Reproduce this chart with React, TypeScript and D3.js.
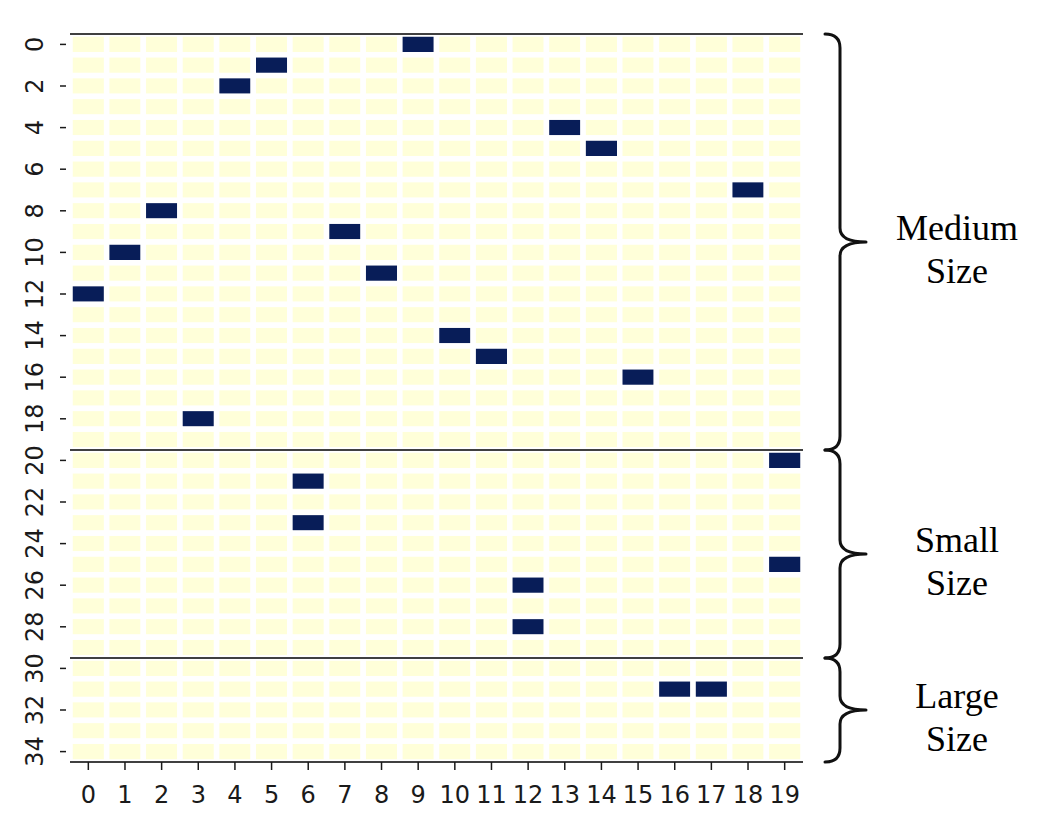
import React from "react";
import * as d3 from "d3";

// 35 samples x 20 classes, one-hot-ish mask
const rowLabels = d3.range(35).map(String);
const colLabels = d3.range(20).map(String);
const markedRows = [0, 1, 2, 4, 5, 7, 8, 9, 10, 11, 12, 14, 15, 16, 18, 20, 21, 23, 25, 26, 28, 31, 31];
const markedCols = [9, 5, 4, 13, 14, 18, 2, 7, 1, 8, 0, 10, 11, 15, 3, 19, 6, 6, 19, 12, 12, 16, 17];

const groupNames = [["Medium", "Size"], ["Small", "Size"], ["Large", "Size"]];
const groupStarts = [0, 20, 30];
const groupEnds = [20, 30, 35];

const W = 1052;
const H = 827;
const margin = { top: 34, right: 249, bottom: 65, left: 70 };

const App = () => {
  const x = d3.scaleBand<string>().domain(colLabels).range([margin.left, W - margin.right]);
  const y = d3.scaleBand<string>().domain(rowLabels).range([margin.top, H - margin.bottom]);
  const color = d3.scaleOrdinal<number, string>().domain([0, 1]).range(["#ffffd9", "#081d58"]);

  const marked = new Set(markedRows.map((r, i) => `${r}-${markedCols[i]}`));
  const cells = rowLabels.flatMap((r) =>
    colLabels.map((c) => ({ r, c, v: marked.has(`${r}-${c}`) ? 1 : 0 }))
  );

  const rowEdge = (i: number) => (i >= rowLabels.length ? y.range()[1] : (y(String(i)) as number));
  const boundaries = [0, ...groupEnds];

  const brace = (y0: number, y1: number) => {
    const x0 = 825, x1 = 840, x2 = 866, r = 14;
    const ym = (y0 + y1) / 2;
    const p = d3.path();
    p.moveTo(x0, y0);
    p.quadraticCurveTo(x1, y0, x1, y0 + r);
    p.lineTo(x1, ym - r);
    p.quadraticCurveTo(x1, ym, x2, ym);
    p.moveTo(x2, ym);
    p.quadraticCurveTo(x1, ym, x1, ym + r);
    p.lineTo(x1, y1 - r);
    p.quadraticCurveTo(x1, y1, x0, y1);
    return p.toString();
  };

  const bottom = y.range()[1];

  return (
    <svg width={W} height={H} style={{ position: "absolute", left: 0, top: 0, background: "#fff" }}>
      <g>
        {cells.map((d) => (
          <rect
            key={`${d.r}-${d.c}`}
            x={x(d.c)}
            y={y(d.r)}
            width={x.bandwidth()}
            height={y.bandwidth()}
            fill={color(d.v)}
            stroke="#fff"
            strokeWidth={5.5}
          />
        ))}
      </g>
      {boundaries.map((b) => (
        <line key={b} x1={margin.left} x2={W - margin.right} y1={rowEdge(b)} y2={rowEdge(b)} stroke="#000" strokeWidth={1.5} />
      ))}
      <g fontFamily="DejaVu Sans" fontSize={24} fill="#1a1a1a">
        {colLabels.map((c) => {
          const cx = (x(c) as number) + x.bandwidth() / 2;
          return (
            <g key={c}>
              <line x1={cx} x2={cx} y1={bottom} y2={bottom + 8} stroke="#1a1a1a" strokeWidth={1.5} />
              <text x={cx} y={bottom + 41} textAnchor="middle">{c}</text>
            </g>
          );
        })}
        {rowLabels.filter((_, i) => i % 2 === 0).map((r) => {
          const cy = (y(r) as number) + y.bandwidth() / 2;
          return (
            <g key={r}>
              <line x1={60} x2={66} y1={cy} y2={cy} stroke="#1a1a1a" strokeWidth={1.5} />
              <text transform={`translate(43,${cy}) rotate(-90)`} textAnchor="middle">{r}</text>
            </g>
          );
        })}
      </g>
      {groupNames.map((name, i) => {
        const y0 = rowEdge(groupStarts[i]);
        const y1 = rowEdge(groupEnds[i]);
        const ym = (y0 + y1) / 2;
        return (
          <g key={name.join(" ")}>
            <path d={brace(y0, y1)} fill="none" stroke="#111" strokeWidth={3} strokeLinecap="round" />
            <text x={957} y={ym - 2} textAnchor="middle" fontFamily="Liberation Serif" fontSize={36} fill="#000">{name[0]}</text>
            <text x={957} y={ym + 41} textAnchor="middle" fontFamily="Liberation Serif" fontSize={36} fill="#000">{name[1]}</text>
          </g>
        );
      })}
    </svg>
  );
};

export default App;
